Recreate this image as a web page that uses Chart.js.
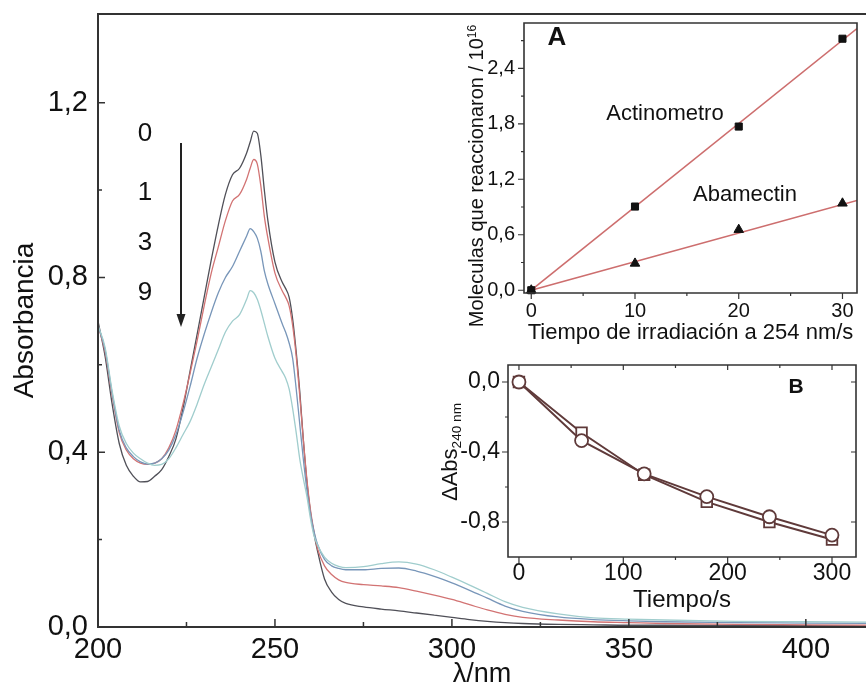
<!DOCTYPE html>
<html>
<head>
<meta charset="utf-8">
<script src="https://cdn.jsdelivr.net/npm/chart.js@4.4.1/dist/chart.umd.min.js"></script>
<style>
  body { margin: 0; background: #fff; }
  #wrap { position: relative; width: 866px; height: 687px; overflow: hidden; font-family: 'Liberation Sans', Arial, sans-serif; color: #111; }
  canvas { position: absolute; }
  .t { position: absolute; transform: translate(-50%, -50%); white-space: nowrap; line-height: 1; }
  .rot { transform: translate(-50%, -50%) rotate(-90deg); }
  sup { font-size: 60%; vertical-align: 0.6em; line-height: 0; }
  sub { font-size: 62%; vertical-align: -0.3em; line-height: 0; }
</style>
</head>
<body>
<div id="wrap">
  <canvas id="main" width="866" height="687" style="left:0;top:0"></canvas>
  <canvas id="insetA" width="426" height="346" style="left:440px;top:0"></canvas>
  <canvas id="insetB" width="466" height="270" style="left:400px;top:345px"></canvas>

  <svg width="866" height="687" style="position:absolute;left:0;top:0">
    <line x1="181" y1="143" x2="181" y2="316" stroke="#222" stroke-width="2"/>
    <polygon points="176.5,314 185.5,314 181,327" fill="#222"/>
  </svg>

  <div class="t" style="left:145px;top:132px;font-size:26px">0</div>
  <div class="t" style="left:145px;top:191px;font-size:26px">1</div>
  <div class="t" style="left:145px;top:241px;font-size:26px">3</div>
  <div class="t" style="left:145px;top:291px;font-size:26px">9</div>

  <div class="t" style="left:557px;top:36px;font-size:26px;font-weight:bold">A</div>
  <div class="t" style="left:665px;top:113px;font-size:22px">Actinometro</div>
  <div class="t" style="left:745px;top:194px;font-size:22px">Abamectin</div>
  <div class="t rot" style="left:476px;top:176px;font-size:20px">Moleculas que reaccionaron / 10<sup>16</sup></div>

  <div class="t" style="left:796px;top:385px;font-size:21px;font-weight:bold">B</div>
  <div class="t rot" style="left:450px;top:452px;font-size:22px">&Delta;Abs<sub>240 nm</sub></div>
</div>

<script>
// ---- datos: espectros (Absorbancia vs lambda) ----
const wl = [200, 202, 204, 206, 208, 210, 212, 214, 216, 218,
            220, 222, 224, 226, 228, 230, 232, 234, 236, 238,
            240, 242, 243, 244, 245, 246, 247, 248, 250, 252,
            253, 254, 255, 256, 257, 258, 259, 260, 261, 262,
            264, 266, 268, 270, 275, 280, 285, 290, 295, 300,
            305, 310, 315, 320, 330, 340, 350, 360, 380, 400, 420];

const spec0 = [0.70, 0.62, 0.51, 0.42, 0.37, 0.345, 0.332, 0.333, 0.345, 0.36,
               0.39, 0.43, 0.50, 0.585, 0.67, 0.755, 0.84, 0.92, 0.99, 1.035,
               1.05, 1.085, 1.11, 1.135, 1.13, 1.08, 1.00, 0.93, 0.835, 0.79,
               0.775, 0.755, 0.705, 0.63, 0.54, 0.43, 0.335, 0.265, 0.215, 0.175,
               0.11, 0.08, 0.063, 0.054, 0.046, 0.041, 0.037, 0.032, 0.027, 0.022,
               0.017, 0.013, 0.010, 0.008, 0.006, 0.005, 0.004, 0.004, 0.003, 0.003, 0.002];

const spec1 = [0.69, 0.63, 0.53, 0.445, 0.405, 0.385, 0.375, 0.372, 0.375, 0.385,
               0.41, 0.45, 0.51, 0.58, 0.655, 0.735, 0.81, 0.87, 0.93, 0.975,
               0.99, 1.025, 1.05, 1.07, 1.06, 1.01, 0.94, 0.89, 0.81, 0.77,
               0.755, 0.735, 0.69, 0.62, 0.53, 0.43, 0.34, 0.27, 0.22, 0.18,
               0.14, 0.12, 0.108, 0.102, 0.097, 0.094, 0.09, 0.082, 0.073, 0.063,
               0.051, 0.039, 0.029, 0.022, 0.016, 0.012, 0.010, 0.008, 0.006, 0.005, 0.004];

const spec3 = [0.69, 0.635, 0.535, 0.45, 0.41, 0.39, 0.378, 0.373, 0.375, 0.385,
               0.405, 0.44, 0.49, 0.55, 0.615, 0.67, 0.72, 0.765, 0.80, 0.825,
               0.86, 0.895, 0.912, 0.905, 0.89, 0.86, 0.815, 0.785, 0.74, 0.695,
               0.675, 0.65, 0.615, 0.545, 0.465, 0.385, 0.315, 0.26, 0.22, 0.19,
               0.155, 0.14, 0.134, 0.131, 0.131, 0.134, 0.135, 0.128, 0.116, 0.101,
               0.084, 0.066, 0.048, 0.036, 0.023, 0.017, 0.014, 0.012, 0.010, 0.009, 0.008];

const spec9 = [0.69, 0.64, 0.54, 0.46, 0.42, 0.398, 0.385, 0.375, 0.37, 0.372,
               0.385, 0.41, 0.44, 0.47, 0.51, 0.555, 0.595, 0.635, 0.675, 0.70,
               0.715, 0.75, 0.77, 0.765, 0.75, 0.725, 0.695, 0.665, 0.615, 0.585,
               0.57, 0.545, 0.50, 0.445, 0.385, 0.34, 0.30, 0.25, 0.21, 0.188,
               0.16, 0.146, 0.139, 0.136, 0.138, 0.145, 0.149, 0.144, 0.131, 0.114,
               0.096, 0.077, 0.058, 0.045, 0.030, 0.021, 0.018, 0.016, 0.013, 0.012, 0.011];

const mainXTicks = [200, 250, 300, 350, 400];
const mainXLabels = ['200', '250', '300', '350', '400'];
const mainYTicks = [0, 0.4, 0.8, 1.2];
const mainYLabels = ['0,0', '0,4', '0,8', '1,2'];

// ---- inserto A ----
const tA = [0, 10, 20, 30];
const actinometro = [0, 0.905, 1.77, 2.72];
const abamectin = [0, 0.29, 0.655, 0.94];
const fitX = [0, 31.4];
const actFit = [0, 2.83];
const abaFit = [0, 0.97];
const aXTicks = [0, 10, 20, 30];
const aXLabels = ['0', '10', '20', '30'];
const aYTicks = [0, 0.6, 1.2, 1.8, 2.4];
const aYLabels = ['0,0', '0,6', '1,2', '1,8', '2,4'];

// ---- inserto B ----
const tB = [0, 60, 120, 180, 240, 300];
const bCuadrados = [0, -0.29, -0.53, -0.685, -0.80, -0.90];
const bCirculos = [0, -0.335, -0.525, -0.655, -0.77, -0.875];
const bXTicks = [0, 100, 200, 300];
const bXLabels = ['0', '100', '200', '300'];
const bYTicks = [-0.8, -0.4, 0];
const bYLabels = ['-0,8', '-0,4', '0,0'];

Chart.defaults.font.family = "'Liberation Sans', Arial, sans-serif";
Chart.defaults.color = '#111';

// marco y marcas de escala (menores incluidas)
const frameTicks = {
  id: 'frameTicks',
  afterDatasetsDraw(chart, args, o) {
    const { ctx, chartArea: a, scales } = chart;
    ctx.save();
    ctx.strokeStyle = o.color || '#222';
    ctx.lineWidth = o.width || 1.5;
    ctx.lineCap = 'square';
    ctx.beginPath();
    (o.sides || []).forEach(s => {
      if (s === 'left') { ctx.moveTo(a.left, a.top); ctx.lineTo(a.left, a.bottom); }
      if (s === 'right') { ctx.moveTo(a.right, a.top); ctx.lineTo(a.right, a.bottom); }
      if (s === 'top') { ctx.moveTo(a.left, a.top); ctx.lineTo(a.right, a.top); }
      if (s === 'bottom') { ctx.moveTo(a.left, a.bottom); ctx.lineTo(a.right, a.bottom); }
    });
    ctx.stroke();
    ctx.lineWidth = o.tickWidth || 1.2;
    ctx.lineCap = 'butt';
    ctx.beginPath();
    (o.marks || []).forEach(m => {
      const vert = m.side === 'left' || m.side === 'right';
      const sc = vert ? scales.y : scales.x;
      m.values.forEach(v => {
        const p = sc.getPixelForValue(v);
        if (m.side === 'bottom') { ctx.moveTo(p, a.bottom); ctx.lineTo(p, a.bottom - m.len); }
        if (m.side === 'top') { ctx.moveTo(p, a.top); ctx.lineTo(p, a.top + m.len); }
        if (m.side === 'left') { ctx.moveTo(a.left, p); ctx.lineTo(a.left + m.len, p); }
        if (m.side === 'right') { ctx.moveTo(a.right, p); ctx.lineTo(a.right - m.len, p); }
      });
    });
    ctx.stroke();
    ctx.restore();
  }
};

// tamaño fijo de eje y sin relleno automatico por etiquetas
function axis(min, max, vals, labels, size, pad, fix) {
  return {
    type: 'linear', min, max,
    grid: { display: false, drawTicks: false },
    border: { display: false },
    afterBuildTicks: s => { s.ticks = vals.map(v => ({ value: v })); },
    afterFit: s => {
      fix(s);
      s.paddingTop = 0; s.paddingBottom = 0; s.paddingLeft = 0; s.paddingRight = 0;
    },
    ticks: { font: { size }, padding: pad, maxRotation: 0, autoSkip: false, callback: (v, i) => labels[i] }
  };
}

function spectrum(vals, color) {
  return {
    data: wl.map((x, i) => ({ x, y: vals[i] })),
    borderColor: color, borderWidth: 1.3, pointRadius: 0,
    cubicInterpolationMode: 'monotone', fill: false
  };
}

// ---- grafico principal ----
const mx = axis(200, 417, mainXTicks, mainXLabels, 29, 6, s => { s.height = 60; });
mx.title = { display: true, text: 'λ/nm', font: { size: 27, lineHeight: 0.9 }, padding: 0 };
const my = axis(0, 1.403, mainYTicks, mainYLabels, 29, 10, s => { s.width = 98; });
my.title = { display: true, text: 'Absorbancia', font: { size: 28 }, padding: { top: 8, bottom: 0 } };

new Chart(document.getElementById('main'), {
  type: 'line',
  data: {
    datasets: [
      spectrum(spec9, 'rgb(160,205,205)'),
      spectrum(spec3, 'rgb(120,150,185)'),
      spectrum(spec1, 'rgb(210,115,115)'),
      spectrum(spec0, 'rgb(80,80,88)')
    ]
  },
  options: {
    responsive: false, animation: false,
    layout: { padding: { top: 14, left: 0, right: 0, bottom: 0 } },
    plugins: {
      legend: { display: false }, tooltip: { enabled: false },
      frameTicks: {
        color: '#333', width: 2, tickWidth: 1.5,
        sides: ['left', 'bottom', 'top'],
        marks: [
          { side: 'bottom', values: [200, 250, 300, 350, 400], len: 8 },
          { side: 'bottom', values: [225, 275, 325, 375], len: 5 },
          { side: 'left', values: [0, 0.4, 0.8, 1.2], len: 7 },
          { side: 'left', values: [0.2, 0.6, 1.0], len: 4 }
        ]
      }
    },
    scales: { x: mx, y: my }
  },
  plugins: [frameTicks]
});

// ---- inserto A ----
const ax = axis(-0.7, 31.4, aXTicks, aXLabels, 20, 6, s => { s.height = 53; });
ax.title = { display: true, text: 'Tiempo de irradiación a 254 nm/s', font: { size: 22 }, padding: 0 };
const ay = axis(-0.03, 2.89, aYTicks, aYLabels, 20, 9, s => { s.width = 84; });
const fitColor = 'rgb(205,110,110)';

new Chart(document.getElementById('insetA'), {
  type: 'line',
  data: {
    datasets: [
      { data: tA.map((x, i) => ({ x, y: actinometro[i] })), showLine: false, pointStyle: 'rect',
        pointRadius: 5, backgroundColor: '#111', borderColor: '#111', clip: false },
      { data: tA.map((x, i) => ({ x, y: abamectin[i] })), showLine: false, pointStyle: 'triangle',
        pointRadius: 5.5, backgroundColor: '#111', borderColor: '#111', clip: false },
      { data: fitX.map((x, i) => ({ x, y: actFit[i] })), borderColor: fitColor, borderWidth: 1.6, pointRadius: 0 },
      { data: fitX.map((x, i) => ({ x, y: abaFit[i] })), borderColor: fitColor, borderWidth: 1.6, pointRadius: 0 }
    ]
  },
  options: {
    responsive: false, animation: false,
    layout: { padding: { top: 23, left: 0, right: 9, bottom: 0 } },
    plugins: {
      legend: { display: false }, tooltip: { enabled: false },
      frameTicks: {
        color: '#333', width: 1.6, tickWidth: 1.2,
        sides: ['left', 'bottom', 'top', 'right'],
        marks: [
          { side: 'bottom', values: [0, 10, 20, 30], len: -6 },
          { side: 'bottom', values: [5, 15, 25], len: -3 },
          { side: 'left', values: [0, 0.6, 1.2, 1.8, 2.4], len: -6 },
          { side: 'left', values: [0.3, 0.9, 1.5, 2.1, 2.7], len: -3 }
        ]
      }
    },
    scales: { x: ax, y: ay }
  },
  plugins: [frameTicks]
});

// ---- inserto B ----
const bx = axis(-10.5, 323, bXTicks, bXLabels, 23, 3, s => { s.height = 58; });
bx.title = { display: true, text: 'Tiempo/s', font: { size: 24 }, padding: 0 };
const by = axis(-1.0, 0.097, bYTicks, bYLabels, 23, 8, s => { s.width = 108; });
const brown = 'rgb(95,58,58)';

new Chart(document.getElementById('insetB'), {
  type: 'line',
  data: {
    datasets: [
      { data: tB.map((x, i) => ({ x, y: bCirculos[i] })), borderColor: brown, borderWidth: 2,
        pointStyle: 'circle', pointRadius: 6.5, pointBackgroundColor: '#fff', pointBorderColor: brown,
        pointBorderWidth: 1.8, clip: false },
      { data: tB.map((x, i) => ({ x, y: bCuadrados[i] })), borderColor: brown, borderWidth: 2,
        pointStyle: 'rect', pointRadius: 7.5, pointBackgroundColor: '#fff', pointBorderColor: brown,
        pointBorderWidth: 1.8, clip: false }
    ]
  },
  options: {
    responsive: false, animation: false,
    layout: { padding: { top: 20, left: 0, right: 10, bottom: 0 } },
    plugins: {
      legend: { display: false }, tooltip: { enabled: false },
      frameTicks: {
        color: '#333', width: 1.6, tickWidth: 1.2,
        sides: ['left', 'bottom', 'top', 'right'],
        marks: [
          { side: 'bottom', values: [0, 100, 200, 300], len: -6 },
          { side: 'bottom', values: [50, 150, 250], len: -3 },
          { side: 'left', values: [0, -0.4, -0.8], len: -6 },
          { side: 'left', values: [-0.2, -0.6], len: -3 },
          { side: 'top', values: [0, 100, 200, 300], len: 5 },
          { side: 'top', values: [50, 150, 250], len: 3 },
          { side: 'right', values: [0, -0.4, -0.8], len: 5 }
        ]
      }
    },
    scales: { x: bx, y: by }
  },
  plugins: [frameTicks]
});
</script>
</body>
</html>
